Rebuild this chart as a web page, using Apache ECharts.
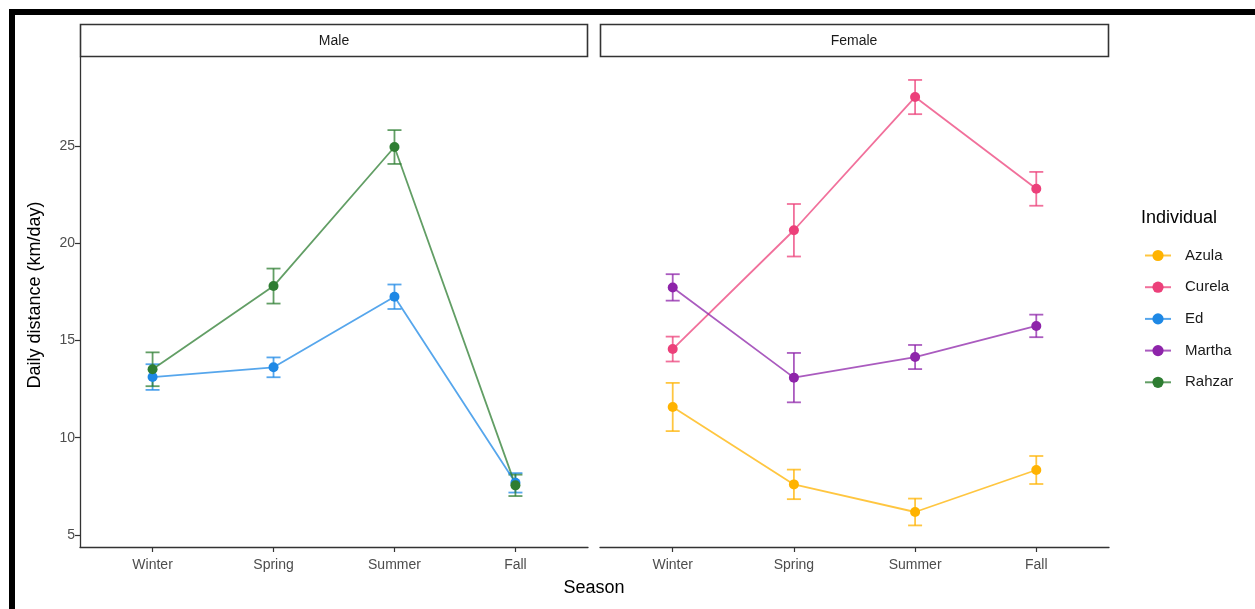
<!DOCTYPE html>
<html>
<head>
<meta charset="utf-8">
<script src="https://cdn.jsdelivr.net/npm/echarts@6/dist/echarts.min.js"></script>
<style>html,body{margin:0;padding:0;background:#fff}#c{width:1255px;height:609px}</style>
</head>
<body>
<div id="c"></div>
<script>
const seasons = ['Winter', 'Spring', 'Summer', 'Fall'];
const yTicks = [5, 10, 15, 20, 25];
const panels = ['Male', 'Female'];
const individuals = ['Azula', 'Curela', 'Ed', 'Martha', 'Rahzar'];
const sexOf = { Azula: 'Female', Curela: 'Female', Ed: 'Male', Martha: 'Female', Rahzar: 'Male' };
const colors = { Azula: '#FFB300', Curela: '#EC407A', Ed: '#1E88E5', Martha: '#8E24AA', Rahzar: '#2E7D32' };
const lineColors = { Azula: 'rgba(255,179,0,0.75)', Curela: 'rgba(236,64,122,0.75)', Ed: 'rgba(30,136,229,0.75)', Martha: 'rgba(142,36,170,0.75)', Rahzar: 'rgba(46,125,50,0.75)' };

const azulaMean  = [11.58, 7.60, 6.18, 8.34];
const azulaSE    = [1.24, 0.76, 0.69, 0.72];
const curelaMean = [14.56, 20.67, 27.52, 22.80];
const curelaSE   = [0.64, 1.35, 0.88, 0.87];
const edMean     = [13.12, 13.62, 17.25, 7.68];
const edSE       = [0.66, 0.51, 0.63, 0.50];
const marthaMean = [17.73, 13.09, 14.15, 15.75];
const marthaSE   = [0.68, 1.27, 0.62, 0.58];
const rahzarMean = [13.52, 17.80, 24.95, 7.55];
const rahzarSE   = [0.87, 0.90, 0.87, 0.55];

const means = { Azula: azulaMean, Curela: curelaMean, Ed: edMean, Martha: marthaMean, Rahzar: rahzarMean };
const ses = { Azula: azulaSE, Curela: curelaSE, Ed: edSE, Martha: marthaSE, Rahzar: rahzarSE };

const FONT = '"Liberation Sans", Arial, Helvetica, sans-serif';

const chart = echarts.init(document.getElementById('c'), null, { renderer: 'canvas' });

const grids = [
  { left: 80, top: 57, width: 508, height: 490 },
  { left: 600, top: 57, width: 509, height: 490 }
];

const xAxes = grids.map((g, i) => ({
  type: 'value', gridIndex: i, min: 0.4, max: 4.6,
  splitLine: { show: false },
  axisLine: { show: true, lineStyle: { color: '#333', width: 1.3 } },
  axisTick: { show: true, length: 5, lineStyle: { color: '#333', width: 1.2 }, customValues: [1, 2, 3, 4] },
  axisLabel: { show: true, customValues: [1, 2, 3, 4], formatter: v => seasons[Math.round(v) - 1] || '',
    color: '#4D4D4D', fontSize: 14, fontFamily: FONT, margin: 11 }
}));

const yAxes = grids.map((g, i) => ({
  type: 'value', gridIndex: i, min: 4.38, max: 29.58,
  splitLine: { show: false },
  axisLine: { show: i === 0, lineStyle: { color: '#333', width: 1.3 } },
  axisTick: { show: i === 0, length: 5, lineStyle: { color: '#333', width: 1.2 }, customValues: yTicks },
  axisLabel: { show: i === 0, customValues: yTicks, color: '#4D4D4D', fontSize: 14, fontFamily: FONT, margin: 5 }
}));

const series = [];
individuals.forEach(name => {
  const gi = panels.indexOf(sexOf[name]);
  series.push({
    name: name, type: 'line', xAxisIndex: gi, yAxisIndex: gi,
    data: means[name].map((v, k) => [k + 1, v]),
    symbol: 'circle', symbolSize: 10,
    itemStyle: { color: colors[name] },
    lineStyle: { color: lineColors[name], width: 1.8 },
    z: 3, animation: false
  });
});
individuals.forEach(name => {
  const gi = panels.indexOf(sexOf[name]);
  series.push({
    name: name, type: 'custom', xAxisIndex: gi, yAxisIndex: gi,
    data: means[name].map((v, k) => [k + 1, v - ses[name][k], v + ses[name][k]]),
    encode: { x: 0, y: [1, 2] },
    itemStyle: { color: lineColors[name] },
    z: 2, animation: false,
    renderItem: (params, api) => {
      const x = api.value(0);
      const top = api.coord([x, api.value(2)]);
      const bot = api.coord([x, api.value(1)]);
      const w = 7;
      const st = { stroke: lineColors[name], lineWidth: 1.8 };
      return { type: 'group', children: [
        { type: 'line', shape: { x1: top[0], y1: top[1], x2: bot[0], y2: bot[1] }, style: st },
        { type: 'line', shape: { x1: top[0] - w, y1: top[1], x2: top[0] + w, y2: top[1] }, style: st },
        { type: 'line', shape: { x1: bot[0] - w, y1: bot[1], x2: bot[0] + w, y2: bot[1] }, style: st }
      ]};
    }
  });
});

const graphic = [
  { type: 'rect', shape: { x: 12, y: 12, width: 1300, height: 700 }, style: { fill: 'none', stroke: '#000', lineWidth: 6 }, z: 100 },
  { type: 'rect', shape: { x: 80.5, y: 24.5, width: 507, height: 32 }, style: { fill: '#fff', stroke: '#333', lineWidth: 1.6 } },
  { type: 'rect', shape: { x: 600.5, y: 24.5, width: 508, height: 32 }, style: { fill: '#fff', stroke: '#333', lineWidth: 1.6 } },
  { type: 'text', x: 334, y: 41, style: { text: panels[0], fill: '#1A1A1A', font: '14px ' + FONT, textAlign: 'center', textVerticalAlign: 'middle' } },
  { type: 'text', x: 854, y: 41, style: { text: panels[1], fill: '#1A1A1A', font: '14px ' + FONT, textAlign: 'center', textVerticalAlign: 'middle' } },
  { type: 'text', x: 35, y: 295, rotation: Math.PI / 2, style: { text: 'Daily distance (km/day)', fill: '#000', font: '18px ' + FONT, textAlign: 'center', textVerticalAlign: 'middle' } },
  { type: 'text', x: 594, y: 588, style: { text: 'Season', fill: '#000', font: '18px ' + FONT, textAlign: 'center', textVerticalAlign: 'middle' } },
  { type: 'text', x: 1141, y: 218, style: { text: 'Individual', fill: '#000', font: '18px ' + FONT, textAlign: 'left', textVerticalAlign: 'middle' } }
];

chart.setOption({
  backgroundColor: '#fff',
  animation: false,
  grid: grids,
  xAxis: xAxes,
  yAxis: yAxes,
  legend: {
    data: individuals, orient: 'vertical', left: 1144, top: 248, padding: 0,
    itemWidth: 26, itemHeight: 14, itemGap: 16.7,
    textStyle: { fontSize: 15, color: '#1A1A1A', fontFamily: FONT, padding: [0, 0, 0, 9] },
    selectedMode: false
  },
  graphic: graphic,
  series: series
});
</script>
</body>
</html>
